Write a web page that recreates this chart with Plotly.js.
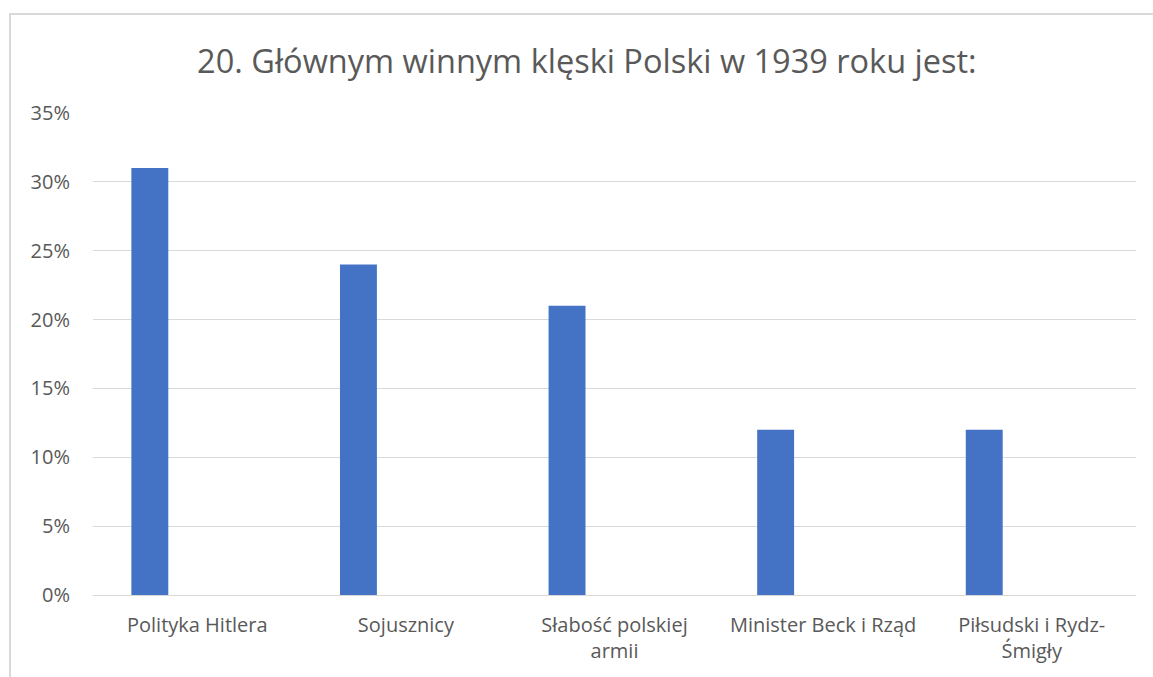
<!DOCTYPE html>
<html><head><meta charset="utf-8">
<script src="https://cdn.plot.ly/plotly-3.0.1.min.js"></script>
<style>
html,body{margin:0;padding:0;background:#fff;}
#wrap{position:relative;width:1153px;height:677px;overflow:hidden;}
#chart{width:1153px;height:677px;}
#frame{position:absolute;left:9px;top:13px;width:1200px;height:700px;border:2px solid #d9d9d9;pointer-events:none;box-sizing:border-box;}
</style></head>
<body><div id="wrap"><div id="chart"></div><div id="frame"></div></div>
<script>
const categories = ["Polityka Hitlera", "Sojusznicy", "Słabość polskiej<br>armii", "Minister Beck i Rząd", "Piłsudski i Rydz-<br>Śmigły"];
const values = [0.31, 0.24, 0.21, 0.12, 0.12];
const titleText = "20. Głównym winnym klęski Polski w 1939 roku jest:";
const FONT = "'Open Sans', Lato, sans-serif";

Plotly.newPlot('chart', [{
  type: 'bar', x: categories, y: values,
  marker: {color: '#4472C4'},
  offset: -0.316, width: 0.177,
  hoverinfo: 'x+y'
}], {
  width: 1153, height: 677,
  margin: {l: 93, r: 17, t: 113, b: 82},
  paper_bgcolor: '#fff', plot_bgcolor: '#fff',
  font: {family: FONT, color: '#595959', size: 18},
  title: {text: titleText, font: {family: FONT, size: 32.5, color: '#595959'},
          xref: 'container', x: 0.509, xanchor: 'center',
          yref: 'container', y: 1 - 62/677, yanchor: 'middle'},
  showlegend: false,
  xaxis: {type: 'category', showgrid: false, showline: true, linecolor: '#d9d9d9', linewidth: 1,
          ticks: '', ticklabelstandoff: 12, tickfont: {size: 20, color: '#595959'}, tickangle: 0, zeroline: false},
  yaxis: {range: [0, 0.35], dtick: 0.05, tick0: 0, tickformat: '.0%',
          showgrid: true, gridcolor: '#d9d9d9', gridwidth: 1, zeroline: false, showline: false,
          ticks: '', ticklabelstandoff: 22, tickfont: {size: 20, color: '#595959'}}
}, {displayModeBar: false, staticPlot: true});
</script></body></html>
